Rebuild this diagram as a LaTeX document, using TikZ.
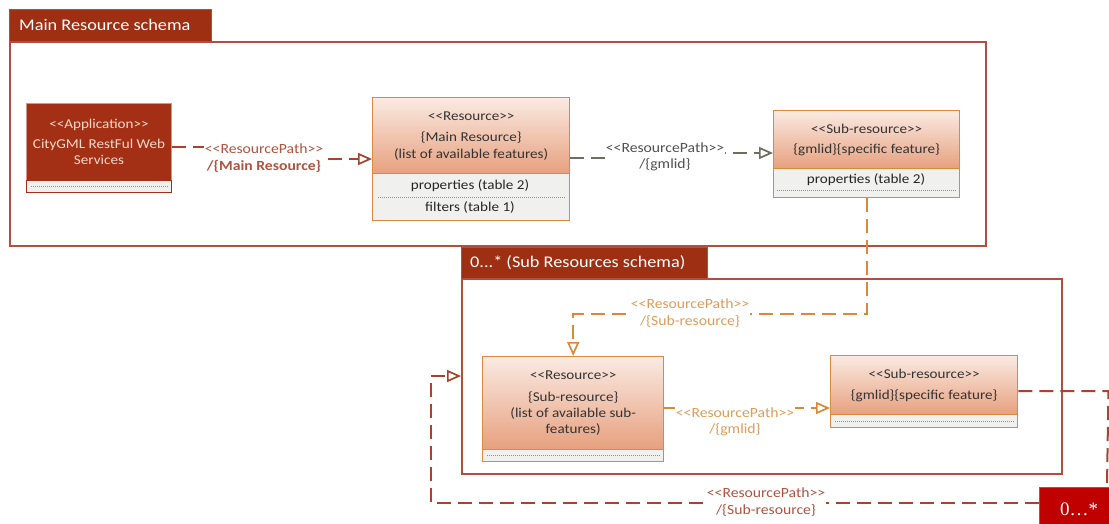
\documentclass[tikz,border=0pt]{standalone}
\usepackage{fontspec}
\setmainfont{Carlito}[FakeStretch=1.12]
\newfontfamily\multfont{Liberation Serif}
\usetikzlibrary{arrows.meta,calc}
\definecolor{framered}{HTML}{B0503C}
\definecolor{tabred}{HTML}{9E2F12}
\definecolor{appred}{HTML}{A33015}
\definecolor{apptext}{HTML}{F4D9CC}
\definecolor{boxorange}{HTML}{D98B3D}
\definecolor{boxtop}{HTML}{FAEAE2}
\definecolor{boxbot}{HTML}{E7A07E}
\definecolor{compgray}{HTML}{F0F0EE}
\definecolor{dotgreen}{HTML}{7E9C6C}
\definecolor{txtgray}{HTML}{333333}
\definecolor{linered}{HTML}{A8432D}
\definecolor{labred}{HTML}{B05340}
\definecolor{linegray}{HTML}{6E6E5E}
\definecolor{labgray}{HTML}{505050}
\definecolor{lineorange}{HTML}{D88A3A}
\definecolor{laborange}{HTML}{E09C5A}
\definecolor{multred}{HTML}{C00000}
\begin{document}
\begin{tikzpicture}[x=1pt,y=-1pt,
  frame/.style={draw=framered, line width=1.5pt, inner sep=0, anchor=north west},
  tabbox/.style={fill=tabred, draw=framered, line width=1pt, inner sep=0, anchor=north west},
  tabtext/.style={text=white, font=\fontsize{16.3}{18}\selectfont, anchor=west, inner sep=0},
  upper/.style={draw=boxorange, line width=1.4pt, top color=boxtop, bottom color=boxbot,
    anchor=north west, inner sep=2pt, align=center, text=txtgray, font=\fontsize{13.5}{18}\selectfont},
  appbox/.style={draw=framered!60!white, line width=1pt, fill=appred, anchor=north west,
    inner sep=2pt, align=center, text=apptext, font=\fontsize{13.5}{18}\selectfont},
  comp/.style={draw=boxorange, line width=1.4pt, fill=compgray, anchor=north west, inner sep=0},
  appcomp/.style={draw=appred, line width=1.4pt, fill=compgray, anchor=north west, inner sep=0},
  comptext/.style={text=black!85, font=\fontsize{13.5}{15}\selectfont, inner sep=0},
  dots/.style={draw=dotgreen, line width=0.9pt, dash pattern=on 0.9pt off 1.1pt},
  conn/.style={line width=2pt, dash pattern=on 14pt off 7pt},
  tip/.style={-{Triangle[open,length=14pt,width=12pt,line width=1.7pt]}},
  lab/.style={fill=white, inner sep=1pt, align=center, font=\fontsize{14}{16.5}\selectfont},
  multbox/.style={fill=multred, draw=boxorange!70!black, line width=1pt, anchor=north west,
    inner sep=0, text=white, font=\multfont\fontsize{19}{21}\selectfont}
]
\useasboundingbox (0,0) rectangle (1109,523);
\fill[white] (0,0) rectangle (1109,523);

% Main frame
\node[frame, minimum width=976pt, minimum height=204pt] (mainframe) at (9,41) {};
\node[tabbox, minimum width=202pt, minimum height=32pt] (maintab) at (9,9) {};
\node[tabtext] (maintitle) at (19,25) {Main Resource schema};

% Sub frame
\node[frame, minimum width=600pt, minimum height=195pt] (subframe) at (461,278) {};
\node[tabbox, minimum width=246pt, minimum height=31pt] (subtab) at (461,247) {};
\node[tabtext] (subtitle) at (470,263) {0...* (Sub Resources schema)};

% Application
\node[appbox, minimum width=145pt, minimum height=77pt] (app) at (26,103)
  {<{}<Application>{}>\\[2pt]CityGML RestFul Web\\[-2pt]Services};
\node[appcomp, minimum width=145pt, minimum height=12pt] (appcomp) at (26,180) {};
\draw[dots] ($(appcomp.west)+(5,0)$) -- ($(appcomp.east)+(-4,0)$);

% Resource (main)
\node[upper, minimum width=197pt, minimum height=76pt] (res) at (372,97)
  {<{}<Resource>{}>\\[3pt]\{Main Resource\}\\[-1pt](list of available features)};
\node[comp, minimum width=197pt, minimum height=47pt] (rescomp) at (372,173) {};
\node[comptext] (resprop) at (470,186) {properties (table 2)};
\node[comptext] (resfilt) at (470,207) {filters (table 1)};
\draw[dots] ($(rescomp.north west)+(6,24)$) -- ($(rescomp.north east)+(-6,24)$);

% Sub-resource (main)
\node[upper, minimum width=186pt, minimum height=58pt] (sub) at (773,110)
  {<{}<Sub-resource>{}>\\[2pt]\{gmlid\}\{specific feature\}};
\node[comp, minimum width=186pt, minimum height=29pt] (subcomp) at (773,168) {};
\node[comptext] (subprop) at (866,180) {properties (table 2)};
\draw[dots] ($(subcomp.north west)+(4,22)$) -- ($(subcomp.north east)+(-4,22)$);

% Resource (sub)
\node[upper, minimum width=181pt, minimum height=93pt] (res2) at (482,356)
  {<{}<Resource>{}>\\[4pt]\{Sub-resource\}\\[-2pt](list of available sub-\\[-2pt]features)};
\node[comp, minimum width=181pt, minimum height=12pt] (res2comp) at (482,449) {};
\draw[dots] ($(res2comp.west)+(5,0)$) -- ($(res2comp.east)+(-5,0)$);

% Sub-resource (sub)
\node[upper, minimum width=187pt, minimum height=59pt] (sub2) at (830,355)
  {<{}<Sub-resource>{}>\\[3pt]\{gmlid\}\{specific feature\}};
\node[comp, minimum width=187pt, minimum height=13pt] (sub2comp) at (830,414) {};
\draw[dots] ($(sub2comp.west)+(5,0)$) -- ($(sub2comp.east)+(-5,0)$);

% Multiplicity box
\node[multbox, minimum width=80pt, minimum height=45pt] (mult) at (1039,487) {};
\node[text=white, font=\multfont\fontsize{19}{21}\selectfont, inner sep=0] (multtext) at (1079,509) {0…*};

% Connector 1
\coordinate (c1s) at ($(app.north east)+(0,44)$);
\coordinate (c1e) at ($(res.north west)+(0,62)$);
\draw[conn, linered, tip] (c1s) -- ($(c1s)!0.47!(c1s -| c1e)$) |- (c1e);
\node[lab, text=labred] (l1) at ($(c1s)!0.5!(c1e)+(-8,5)$)
  {<{}<ResourcePath>{}>\\\textbf{/\{Main Resource\}}};

% Connector 2
\coordinate (c2s) at ($(res.north east)+(0,61)$);
\coordinate (c2e) at ($(sub.north west)+(0,43)$);
\draw[conn, linegray, tip] (c2s) -- ($(c2s)!0.5!(c2s -| c2e)$) |- (c2e);
\node[lab, text=labgray] (l2) at (665,157) {<{}<ResourcePath>{}>\\/\{gmlid\}};

% Connector 3
\draw[conn, lineorange, tip] (subcomp.south) -- ++(0,116) -| (res2.north);
\node[lab, text=laborange] (l3) at (690,313) {<{}<ResourcePath>{}>\\/\{Sub-resource\}};

% Connector 4
\draw[conn, lineorange, tip] ($(res2.north east)+(0,52)$) -- ($(sub2.north west)+(0,53)$);
\node[lab, text=laborange] (l4) at (735,422) {<{}<ResourcePath>{}>\\/\{gmlid\}};

% Connector 5
\draw[conn, linered] ($(sub2.north east)+(0,36)$) -- ++(90,0) -- ($(mult.north west)+(68,0)$);
\draw[conn, linered, tip] ($(mult.north west)+(0,16)$) -| ($(subframe.north west)+(-30,98)$)
  -- ($(subframe.north west)+(0,98)$);
\node[lab, text=labred] (l5) at (766,502) {<{}<ResourcePath>{}>\\/\{Sub-resource\}};
\end{tikzpicture}
\end{document}
